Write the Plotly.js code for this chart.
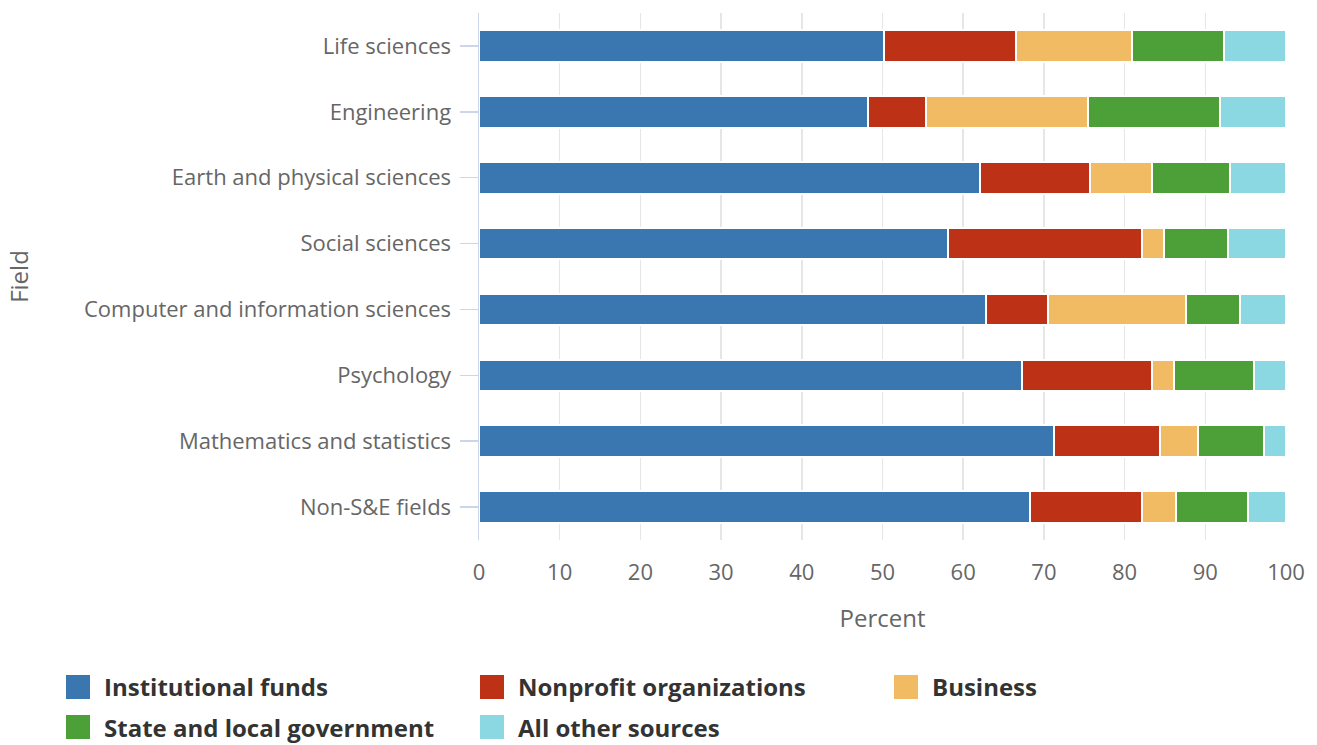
<!DOCTYPE html>
<html>
<head>
<meta charset="utf-8">
<script src="https://cdn.plot.ly/plotly-3.0.1.min.js"></script>
<style>html,body{margin:0;padding:0;background:#fff;}#chart{width:1317px;height:745px;}</style>
</head>
<body>
<div id="chart"></div>
<script>
const fields = ["Life sciences","Engineering","Earth and physical sciences","Social sciences","Computer and information sciences","Psychology","Mathematics and statistics","Non-S&E fields"];
const seriesNames = ["Institutional funds","Nonprofit organizations","Business","State and local government","All other sources"];
const institutional = [50.2,48.2,62.1,58.1,62.8,67.3,71.3,68.3];
const nonprofit     = [16.3,7.2,13.6,24.1,7.7,16.1,13.1,13.9];
const business      = [14.4,20.1,7.7,2.7,17.1,2.7,4.7,4.2];
const stateLocal    = [11.4,16.3,9.7,7.9,6.7,9.9,8.2,8.9];
const otherSources  = [7.7,8.2,6.9,7.2,5.7,4.0,2.7,4.7];
const seriesValues = [institutional,nonprofit,business,stateLocal,otherSources];
const colors = ["#3a77b0","#bd3116","#f0bb63","#4d9f38","#8bd8e3"];

const W = 1317, H = 745;
const M = {l:479, r:31, t:13, b:205};
const PW = W - M.l - M.r, PH = H - M.t - M.b;
const px2x = p => (p - M.l) / PW;
const px2y = p => (H - M.b - p) / PH;

const traces = seriesNames.map((name,i)=>({
  type:'bar', orientation:'h', name:name,
  y: fields, x: seriesValues[i],
  marker:{color:colors[i], line:{color:'#ffffff', width:2}},
  showlegend:false,
  hoverinfo:'x+y+name'
}));

// custom legend (3 columns, 2 rows), styled like the reference
const legendCols = [66, 480, 894];
const legendRows = [687, 727];
const shapes = [], annotations = [];
seriesNames.forEach((name,i)=>{
  const col = i % 3, row = Math.floor(i / 3);
  const sx = legendCols[col], cy = legendRows[row];
  shapes.push({type:'rect', xref:'paper', yref:'paper',
    x0:px2x(sx), x1:px2x(sx+24), y0:px2y(cy+12), y1:px2y(cy-12),
    fillcolor:colors[i], line:{width:0}});
  annotations.push({xref:'paper', yref:'paper', x:px2x(sx+36), y:px2y(cy),
    xanchor:'left', yanchor:'middle', text:name, showarrow:false,
    font:{family:'"Open Sans", sans-serif', size:24, color:'#333333', weight:'bold'}});
});

const layout = {
  width:W, height:H,
  margin:M,
  paper_bgcolor:'#fff', plot_bgcolor:'#fff',
  barmode:'stack', bargap:0.52,
  font:{family:'"Open Sans", sans-serif', size:22, color:'#666666'},
  xaxis:{
    range:[0,100], dtick:10, tick0:0,
    showgrid:true, gridcolor:'#e6e6e6', gridwidth:1.5,
    zeroline:false, showline:false, ticks:'',
    ticklabelstandoff:17,
    tickfont:{size:22, color:'#666666'},
    title:{text:'Percent', font:{size:24, color:'#666666'}, standoff:25},
    fixedrange:true
  },
  yaxis:{
    autorange:'reversed', type:'category',
    showline:true, linecolor:'#ccd6eb', linewidth:1.5,
    ticks:'outside', ticklen:18, tickcolor:'#ccd6eb', tickwidth:1.5,
    ticklabelstandoff:4,
    showgrid:false, zeroline:false,
    tickfont:{size:22, color:'#666666'},
    title:{text:'Field', font:{size:24, color:'#666666'}, standoff:48},
    fixedrange:true
  },
  showlegend:false,
  shapes:shapes,
  annotations:annotations
};

Plotly.newPlot('chart', traces, layout, {displayModeBar:false, staticPlot:true});
</script>
</body>
</html>
